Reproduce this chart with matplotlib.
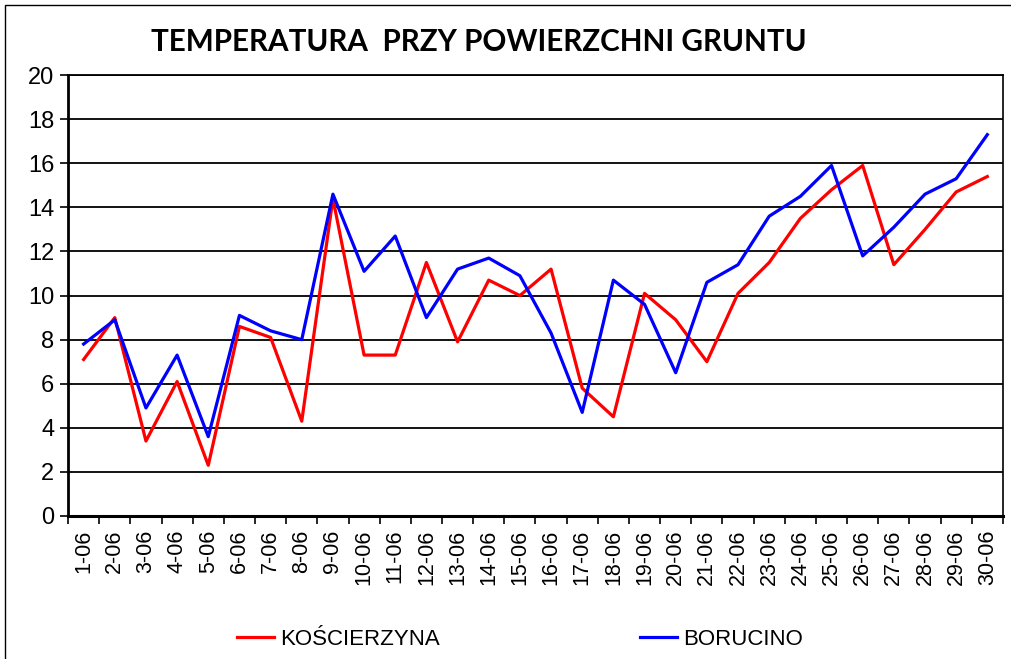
import numpy as np
import matplotlib
matplotlib.use('Agg')
import matplotlib.pyplot as plt
from matplotlib.patches import Rectangle

# dane
days = ['%d-06' % d for d in range(1, 31)]
koscierzyna = [7.1, 9.0, 3.4, 6.1, 2.3, 8.6, 8.1, 4.3, 14.4, 7.3,
               7.3, 11.5, 7.9, 10.7, 10.0, 11.2, 5.8, 4.5, 10.1, 8.9,
               7.0, 10.1, 11.5, 13.5, 14.8, 15.9, 11.4, 13.0, 14.7, 15.4]
borucino = [7.8, 8.9, 4.9, 7.3, 3.6, 9.1, 8.4, 8.0, 14.6, 11.1,
            12.7, 9.0, 11.2, 11.7, 10.9, 8.3, 4.7, 10.7, 9.6, 6.5,
            10.6, 11.4, 13.6, 14.5, 15.9, 11.8, 13.1, 14.6, 15.3, 17.3]
yticks = [0, 2, 4, 6, 8, 10, 12, 14, 16, 18, 20]

plt.rcParams['font.family'] = ['Liberation Sans', 'DejaVu Sans']

fig = plt.figure(figsize=(10.11, 6.59), dpi=100)
ax = fig.add_axes([0.0673, 0.217, 0.9247, 0.669])

x = np.arange(1, len(days) + 1)
ax.plot(x, koscierzyna, color='#FF0000', lw=2.3, label='KOŚCIERZYNA', zorder=3)
ax.plot(x, borucino, color='#0000FF', lw=2.3, label='BORUCINO', zorder=3)

ax.set_xlim(0.5, len(days) + 0.5)
ax.set_ylim(0, 20)
ax.set_yticks(yticks)
ax.tick_params(axis='y', labelsize=17, length=6, width=1.2, direction='out', pad=4)
for y in yticks[1:]:
    ax.axhline(y, color='black', lw=1.3, zorder=1)

# ticks between categories, labels at centres
ax.set_xticks(np.arange(0.5, len(days) + 1, 1))
ax.set_xticklabels([])
ax.tick_params(axis='x', which='major', length=6, width=1.2, direction='out')
ax.set_xticks(x, minor=True)
ax.set_xticklabels(days, minor=True, rotation=90, fontsize=15.5)
ax.tick_params(axis='x', which='minor', length=0, pad=10)

ax.spines['left'].set_linewidth(2)
ax.spines['bottom'].set_linewidth(2.2)
ax.spines['right'].set_linewidth(1.2)
ax.spines['top'].set_linewidth(1.3)

fig.text(0.474, 0.936, 'TEMPERATURA  PRZY POWIERZCHNI GRUNTU', ha='center', va='center',
         fontsize=21.3, fontweight='bold', family='Lato')

fig.legend(loc='center', bbox_to_anchor=(0.514, 0.030), ncol=2, frameon=False,
           fontsize=16, handlelength=1.67, handletextpad=0.27, columnspacing=9.0)

fig.patches.append(Rectangle((0.005, -0.02), 1.0, 1.0124, transform=fig.transFigure,
                             fill=False, edgecolor='black', lw=1.0))

plt.savefig('out.png', dpi=100)
